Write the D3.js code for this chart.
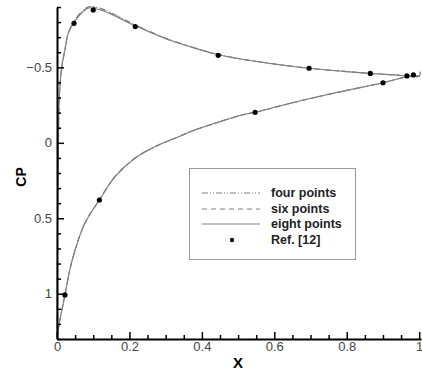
<!DOCTYPE html>
<html>
<head>
<meta charset="utf-8">
<script src="https://cdn.jsdelivr.net/npm/d3@7/dist/d3.min.js"></script>
<style>
  body { margin: 0; background: #fff; }
  svg { display: block; font-family: "Liberation Sans", Arial, sans-serif; }
</style>
</head>
<body>
<div class="container"></div>
<script>
// upper (suction) branch, x stations
var xUpper = [0, 0.0015, 0.004, 0.006, 0.013, 0.022, 0.031, 0.047, 0.07, 0.088, 0.12, 0.146, 0.216, 0.3, 0.37, 0.445, 0.55, 0.696, 0.8, 0.865, 0.93, 0.966, 0.984, 1.0, 1.003];
var cpUpperFour  = [1.29, 0.5, 0.0, -0.284, -0.5, -0.62, -0.728, -0.806, -0.874, -0.902, -0.892, -0.866, -0.782, -0.694, -0.637, -0.586, -0.54, -0.494, -0.472, -0.46, -0.45, -0.443, -0.442, -0.44, -0.471];
var cpUpperSix   = [1.29, 0.5, 0.0, -0.284, -0.5, -0.62, -0.727, -0.802, -0.869, -0.898, -0.887, -0.861, -0.779, -0.692, -0.636, -0.585, -0.54, -0.494, -0.472, -0.46, -0.45, -0.443, -0.442, -0.44, -0.471];
var cpUpperEight = [1.29, 0.5, 0.0, -0.284, -0.5, -0.615, -0.724, -0.798, -0.865, -0.894, -0.88, -0.855, -0.775, -0.69, -0.635, -0.584, -0.539, -0.494, -0.472, -0.46, -0.45, -0.443, -0.442, -0.44, -0.471];

// lower (pressure) branch
var xLower = [0, 0.008, 0.022, 0.035, 0.05, 0.077, 0.117, 0.16, 0.215, 0.271, 0.326, 0.381, 0.436, 0.51, 0.547, 0.65, 0.763, 0.9, 0.966, 1.0];
var cpLowerFour  = [1.29, 1.174, 1.008, 0.845, 0.71, 0.531, 0.377, 0.223, 0.101, 0.024, -0.032, -0.086, -0.13, -0.185, -0.203, -0.266, -0.329, -0.398, -0.438, -0.445];
var cpLowerSix   = [1.29, 1.174, 1.008, 0.845, 0.71, 0.532, 0.378, 0.224, 0.102, 0.025, -0.031, -0.085, -0.129, -0.184, -0.202, -0.265, -0.328, -0.398, -0.438, -0.445];
var cpLowerEight = [1.29, 1.174, 1.008, 0.845, 0.71, 0.533, 0.379, 0.225, 0.103, 0.026, -0.030, -0.085, -0.129, -0.184, -0.202, -0.265, -0.328, -0.398, -0.438, -0.445];

// Ref. [12] points
var refX  = [0.022, 0.047, 0.1, 0.117, 0.216, 0.445, 0.547, 0.696, 0.865, 0.9, 0.966, 0.984];
var refCp = [1.008, -0.792, -0.88, 0.379, -0.77, -0.58, -0.202, -0.494, -0.46, -0.398, -0.443, -0.45];

var xTicks = [0, 0.2, 0.4, 0.6, 0.8, 1];
var yTicks = [-0.5, 0, 0.5, 1];
var legendLabels = ["four points", "six points", "eight points", "Ref. [12]"];

var width = 422, height = 371;

var xScale = d3.scaleLinear().domain([0, 1.005]).range([57, 421]);
var yScale = d3.scaleLinear().domain([-0.9, 1.3]).range([7, 339]);

var svg = d3.select('.container')
    .append('svg')
    .attr('width', width)
    .attr('height', height);

var series = [
    {name: legendLabels[0], up: cpUpperFour, lo: cpLowerFour, dash: "6,2,1,2,1,2"},
    {name: legendLabels[1], up: cpUpperSix, lo: cpLowerSix, dash: "5,4"},
    {name: legendLabels[2], up: cpUpperEight, lo: cpLowerEight, dash: null}
];

var line = d3.line()
    .x(function (d) { return xScale(d[0]); })
    .y(function (d) { return yScale(d[1]); })
    .curve(d3.curveCatmullRom.alpha(0.5));

series.forEach(function (s) {
    var up = xUpper.map(function (x, i) { return [x, s.up[i]]; });
    var lo = xLower.map(function (x, i) { return [x, s.lo[i]]; });
    [up, lo].forEach(function (pts) {
        svg.append('path')
            .attr('d', line(pts))
            .attr('fill', 'none')
            .attr('stroke', '#808080')
            .attr('stroke-width', 1.1)
            .attr('stroke-dasharray', s.dash);
    });
});

svg.selectAll('circle.ref')
    .data(refX)
    .enter()
    .append('circle')
    .attr('class', 'ref')
    .attr('cx', function (d) { return xScale(d); })
    .attr('cy', function (d, i) { return yScale(refCp[i]); })
    .attr('r', 2.6)
    .attr('fill', '#000');

// axes: major ticks point inward, minor ticks shorter
var xMinor = d3.range(0, 1.001, 0.05).filter(function (v) { return Math.abs(v * 5 - Math.round(v * 5)) > 1e-6; });
var yMinor = d3.range(-0.9, 1.301, 0.1).filter(function (v) { return Math.abs(v * 2 - Math.round(v * 2)) > 1e-6; });

svg.append('g')
    .attr('transform', 'translate(0,339)')
    .call(d3.axisBottom(xScale).tickValues(xTicks).tickSizeInner(-7).tickSizeOuter(0).tickPadding(3)
        .tickFormat(function (d) { return d3.format('')(d); }));
svg.append('g')
    .attr('transform', 'translate(0,339)')
    .call(d3.axisBottom(xScale).tickValues(xMinor).tickSizeInner(-4).tickSizeOuter(0).tickFormat(''))
    .select('.domain').remove();

svg.append('g')
    .attr('transform', 'translate(57,0)')
    .call(d3.axisLeft(yScale).tickValues(yTicks).tickSizeInner(-7).tickSizeOuter(0).tickPadding(5)
        .tickFormat(function (d) { return d3.format('')(d); }));
svg.append('g')
    .attr('transform', 'translate(57,0)')
    .call(d3.axisLeft(yScale).tickValues(yMinor).tickSizeInner(-4).tickSizeOuter(0).tickFormat(''))
    .select('.domain').remove();

svg.selectAll('.domain').attr('stroke', '#000').attr('stroke-width', 2);
svg.selectAll('.tick line').attr('stroke', '#000').attr('stroke-width', 1.5);
svg.selectAll('.tick text')
    .attr('fill', '#444')
    .style('font-size', '13px')
    .style('font-family', '"Liberation Sans", Arial, sans-serif');

// axis titles
svg.append('text')
    .attr('x', 238)
    .attr('y', 368)
    .attr('text-anchor', 'middle')
    .style('font-size', '15px')
    .style('font-weight', 'bold')
    .text('X');

svg.append('text')
    .attr('transform', 'translate(26,177) rotate(-90)')
    .attr('text-anchor', 'middle')
    .style('font-size', '14px')
    .style('font-weight', 'bold')
    .text('CP');

// legend
var legend = svg.append('g');
legend.append('rect')
    .attr('x', 189.5)
    .attr('y', 168.5)
    .attr('width', 166)
    .attr('height', 91)
    .attr('fill', '#fff')
    .attr('stroke', '#999')
    .attr('stroke-width', 1);

var rowY = [193, 209, 224, 240];
series.forEach(function (s, i) {
    legend.append('line')
        .attr('x1', 202).attr('x2', 260)
        .attr('y1', rowY[i]).attr('y2', rowY[i])
        .attr('stroke', '#808080')
        .attr('stroke-width', 1.1)
        .attr('stroke-dasharray', s.dash);
});
legend.append('circle')
    .attr('cx', 232).attr('cy', rowY[3])
    .attr('r', 2.2)
    .attr('fill', '#000');

legend.selectAll('text')
    .data(legendLabels)
    .enter()
    .append('text')
    .attr('x', 271)
    .attr('y', function (d, i) { return rowY[i] + 4; })
    .style('font-size', '12.5px')
    .style('font-weight', 'bold')
    .attr('fill', '#222')
    .text(function (d) { return d; });
</script>
</body>
</html>
